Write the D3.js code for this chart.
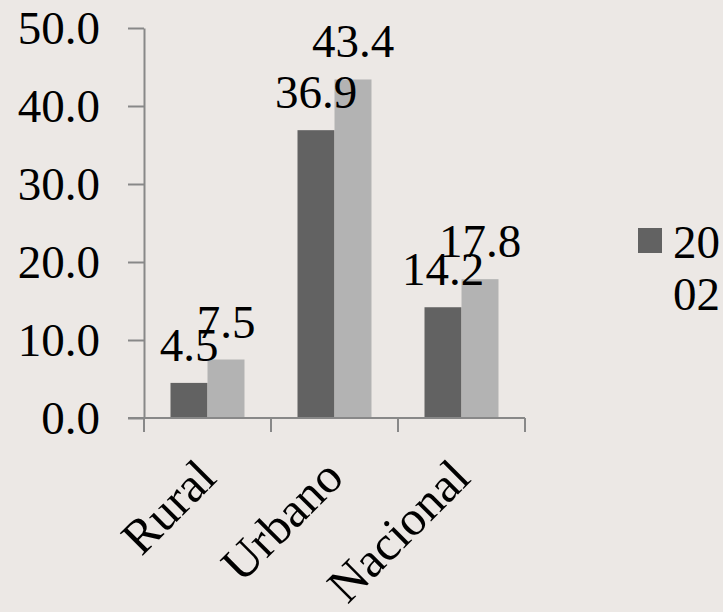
<!DOCTYPE html>
<html>
<head>
<meta charset="utf-8">
<script src="https://cdn.jsdelivr.net/npm/d3@7"></script>
<style>
  body { margin: 0; background: #ece8e5; }
  svg { display: block; }
  text { font-family: "Liberation Serif", "Times New Roman", serif; fill: #000; }
</style>
</head>
<body>
<svg id="chart"></svg>
<script>
// data
const categories = ['Rural', 'Urbano', 'Nacional'];
const series = ['2002', '2010'];
const values2002 = [4.5, 36.9, 14.2];
const values2010 = [7.5, 43.4, 17.8];
const yTicks = [0, 10, 20, 30, 40, 50];

const width = 723, height = 612;
const margin = {top: 28, left: 144, right: 198, bottom: 194};
const fontSize = 47;
const colours = ['#626262', '#b3b3b3'];
const axisColour = '#888888';

const svg = d3.select('#chart')
    .attr('width', width)
    .attr('height', height);

svg.append('rect')
    .attr('width', width)
    .attr('height', height)
    .attr('fill', '#ece8e5');

const chart = svg.append('g')
    .attr('transform', `translate(${margin.left},${margin.top})`);

const innerW = width - margin.left - margin.right;
const innerH = height - margin.top - margin.bottom;

const x = d3.scaleBand()
    .domain(categories)
    .range([0, innerW])
    .paddingInner(0)
    .paddingOuter(0);

const xSub = d3.scaleBand()
    .domain(series)
    .range([x.bandwidth() / 2 - 37, x.bandwidth() / 2 + 37]);

const y = d3.scaleLinear()
    .domain([0, 50])
    .range([innerH, 0]);

// y axis
const yAxis = chart.append('g')
    .call(d3.axisLeft(y).tickValues(yTicks).tickFormat(d3.format('.1f')).tickSize(16).tickSizeOuter(0).tickPadding(28));
yAxis.select('.domain').attr('stroke', axisColour).attr('stroke-width', 2);
yAxis.selectAll('.tick line').attr('stroke', axisColour).attr('stroke-width', 2);
yAxis.selectAll('.tick text')
    .attr('font-size', fontSize)
    .attr('font-family', '"Liberation Serif", serif')
    .attr('fill', '#000')
    .attr('dy', '0.34em');

// bars
const rows = categories.map((c, i) => ({cat: c, vals: [values2002[i], values2010[i]]}));

const groups = chart.selectAll('.group')
    .data(rows)
    .join('g')
    .attr('class', 'group')
    .attr('transform', d => `translate(${x(d.cat)},0)`);

groups.selectAll('rect')
    .data(d => d.vals.map((v, j) => ({s: series[j], v: v, j: j})))
    .join('rect')
    .attr('x', d => xSub(d.s))
    .attr('width', xSub.bandwidth())
    .attr('y', d => y(d.v))
    .attr('height', d => innerH - y(d.v))
    .attr('fill', d => colours[d.j]);

groups.selectAll('.label')
    .data(d => d.vals.map((v, j) => ({s: series[j], v: v, j: j})))
    .join('text')
    .attr('class', 'label')
    .attr('text-anchor', 'middle')
    .attr('font-size', fontSize)
    .attr('x', d => xSub(d.s) + xSub.bandwidth() / 2)
    .attr('y', d => y(d.v) - 22)
    .text(d => d3.format('.1f')(d.v));

// x axis
const xAxisG = chart.append('g')
    .attr('transform', `translate(0,${innerH})`);
xAxisG.append('line')
    .attr('x1', -16).attr('x2', innerW)
    .attr('stroke', axisColour).attr('stroke-width', 2);
xAxisG.selectAll('.xtick')
    .data(d3.range(categories.length + 1))
    .join('line')
    .attr('class', 'xtick')
    .attr('x1', i => i * x.step())
    .attr('x2', i => i * x.step())
    .attr('y1', 0).attr('y2', 14)
    .attr('stroke', axisColour).attr('stroke-width', 2);

xAxisG.selectAll('.xlabel')
    .data(categories)
    .join('text')
    .attr('class', 'xlabel')
    .attr('text-anchor', 'end')
    .attr('font-size', 49)
    .attr('transform', d => `translate(${x(d) + x.bandwidth() / 2 + 11},${62}) rotate(-45)`)
    .text(d => d);

// legend (only the first series is visible, text wraps)
const legend = svg.append('g')
    .attr('transform', 'translate(638,228)');
legend.append('rect')
    .attr('width', 24).attr('height', 25)
    .attr('fill', colours[0]);
legend.append('text')
    .attr('font-size', fontSize)
    .selectAll('tspan')
    .data([series[0].slice(0, 2), series[0].slice(2)])
    .join('tspan')
    .attr('x', 35)
    .attr('y', (d, i) => 30 + i * 52)
    .text(d => d);
</script>
</body>
</html>
